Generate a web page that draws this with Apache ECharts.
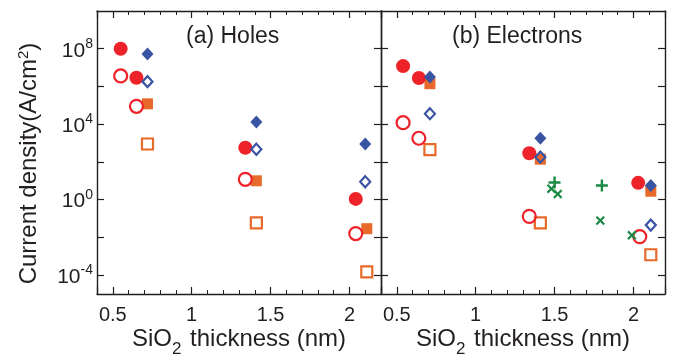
<!DOCTYPE html>
<html>
<head>
<meta charset="utf-8">
<script src="https://cdn.jsdelivr.net/npm/echarts@6/dist/echarts.min.js"></script>
<style>
  html, body { margin: 0; background: #fff; }
  #chart { width: 676px; height: 356px; }
</style>
</head>
<body>
<div id="chart"></div>
<script>
const FONT = 'Liberation Sans, Arial, sans-serif'
const INK = '#231f20'
const RED = '#ee2229'
const BLUE = '#3a54a4'
const ORANGE = '#e86a2a'
const GREEN = '#1a8a44'

const X_MIN = 0.4
const X_MAX = 2.2
const Y_MIN = 1e-5
const Y_MAX = 1e10
const xTickLabels = ['0.5', '1', '1.5', '2']
const yTickValues = [1e-4, 1e-2, 1, 1e2, 1e4, 1e6, 1e8]
const yLabelValues = [1e-4, 1, 1e4, 1e8]
const panelTitles = ['(a) Holes', '(b) Electrons']

// (a) holes: [thickness nm, current density A/cm2]
const holesFilledCircle = [[0.55, 1.0e8], [0.65, 2.9e6], [1.34, 5.6e2], [2.04, 1.1]]
const holesOpenCircle = [[0.55, 3.6e6], [0.65, 8.9e4], [1.34, 12], [2.04, 1.6e-2]]
const holesFilledDiamond = [[0.72, 5.2e7], [1.41, 1.3e4], [2.10, 8.9e2]]
const holesOpenDiamond = [[0.72, 1.8e6], [1.41, 4.7e2], [2.10, 8.9]]
const holesFilledSquare = [[0.72, 1.2e5], [1.41, 10], [2.11, 2.9e-2]]
const holesOpenSquare = [[0.72, 8.9e2], [1.41, 5.9e-2], [2.11, 1.5e-4]]

// (b) electrons
const elecFilledCircle = [[0.54, 1.2e7], [0.64, 2.8e6], [1.34, 2.9e2], [2.03, 7.8]]
const elecOpenCircle = [[0.54, 1.2e4], [0.64, 1.8e3], [1.34, 0.13], [2.04, 1.1e-2]]
const elecFilledDiamond = [[0.71, 3.2e6], [1.41, 1.8e3], [2.11, 5.6]]
const elecOpenDiamond = [[0.71, 3.6e4], [1.41, 1.8e2], [2.11, 4.5e-2]]
const elecFilledSquare = [[0.71, 1.4e6], [1.41, 1.4e2], [2.11, 2.8]]
const elecOpenSquare = [[0.71, 4.5e2], [1.41, 5.9e-2], [2.11, 1.2e-3]]
const elecPlus = [[1.50, 8.1], [1.80, 5.6]]
const elecCross = [[1.48, 3.8], [1.52, 2.0], [1.79, 7.8e-2], [1.99, 1.3e-2]]

const PLUS_PATH = 'path://M4,0H6V4H10V6H6V10H4V6H0V4H4Z'

const grids = [
  { left: 97, top: 11, width: 284, height: 283, outerBoundsMode: 'none', containLabel: false },
  { left: 381, top: 11, width: 284, height: 283, outerBoundsMode: 'none', containLabel: false }
]

function xAxes(p) {
  const base = { gridIndex: p, type: 'value', min: X_MIN, max: X_MAX, splitLine: { show: false } }
  const major = {
    ...base, minInterval: 0.5, maxInterval: 0.5,
    axisLine: { show: true, lineStyle: { color: INK, width: 1.4 } },
    axisTick: { show: true, inside: true, length: 7, lineStyle: { color: INK, width: 1.2 } }
  }
  const minor = {
    ...base, interval: 0.1,
    axisLine: { show: false },
    axisTick: { show: true, inside: true, length: 4, lineStyle: { color: INK, width: 1 } },
    axisLabel: { show: false }
  }
  return [
    {
      ...major, position: 'bottom',
      axisLabel: {
        show: true, margin: 11, fontSize: 20, fontFamily: FONT, color: INK,
        formatter: (v) => {
          const s = String(+(+v).toFixed(1))
          return xTickLabels.includes(s) ? s : ''
        }
      },
      name: 'SiO{sub|2} thickness (nm)',
      nameLocation: 'middle',
      nameGap: 26,
      nameMoveOverlap: false,
      nameTextStyle: {
        fontSize: 24, fontFamily: FONT, color: INK, lineHeight: 26,
        rich: { sub: { fontSize: 17, fontFamily: FONT, color: INK, verticalAlign: 'bottom', lineHeight: 38, padding: [0, 2, 0, 0] } }
      }
    },
    { ...minor, position: 'bottom' },
    { ...major, position: 'top', axisLabel: { show: false } },
    { ...minor, position: 'top' }
  ]
}

function yAxes(p) {
  const base = {
    gridIndex: p, type: 'log', logBase: 10, min: Y_MIN, max: Y_MAX,
    splitLine: { show: false }, minorTick: { show: false },
    axisLine: { show: true, lineStyle: { color: INK, width: 1.4 } },
    axisTick: { show: true, inside: true, length: 7, customValues: yTickValues, lineStyle: { color: INK, width: 1.2 } }
  }
  const left = {
    ...base, position: 'left',
    axisLabel: {
      show: p === 0, margin: 4, fontFamily: FONT, color: INK,
      customValues: yLabelValues,
      formatter: (v) => '{b|10}{s|' + Math.round(Math.log10(v)) + '}',
      rich: {
        b: { fontSize: 21, fontFamily: FONT, color: INK, lineHeight: 24, padding: [4, 0, 0, 0] },
        s: { fontSize: 14, fontFamily: FONT, color: INK, verticalAlign: 'top', lineHeight: 14 }
      }
    }
  }
  if (p === 0) {
    left.name = 'Current density(A/cm{sup|2})'
    left.nameLocation = 'middle'
    left.nameGap = 55
    left.nameRotate = 90
    left.nameMoveOverlap = false
    left.nameTextStyle = {
      fontSize: 24, fontFamily: FONT, color: INK, lineHeight: 26, padding: [0, 22, 0, 0],
      rich: { sup: { fontSize: 15, fontFamily: FONT, color: INK, verticalAlign: 'top', lineHeight: 15 } }
    }
  }
  return [left, { ...base, position: 'right', axisLabel: { show: false } }]
}

function scatter(p, data, symbol, size, color, open, rotate) {
  return {
    type: 'scatter',
    xAxisIndex: p * 4,
    yAxisIndex: p * 2,
    data,
    symbol,
    symbolSize: size,
    symbolRotate: rotate || 0,
    itemStyle: open
      ? { color: 'rgba(0,0,0,0)', borderColor: color, borderWidth: 2.2, opacity: 1 }
      : { color, borderWidth: 0, opacity: 1 },
    emphasis: { disabled: true },
    silent: true
  }
}

const series = [
  scatter(0, holesFilledSquare, 'rect', 11, ORANGE, false),
  scatter(0, holesOpenSquare, 'rect', 11, ORANGE, true),
  scatter(0, holesFilledCircle, 'circle', 14, RED, false),
  scatter(0, holesOpenCircle, 'circle', 13, RED, true),
  scatter(0, holesFilledDiamond, 'diamond', [12, 13], BLUE, false),
  scatter(0, holesOpenDiamond, 'diamond', [10, 11], BLUE, true),

  scatter(1, elecFilledSquare, 'rect', 11, ORANGE, false),
  scatter(1, elecOpenSquare, 'rect', 11, ORANGE, true),
  scatter(1, elecFilledCircle, 'circle', 14, RED, false),
  scatter(1, elecOpenCircle, 'circle', 13, RED, true),
  scatter(1, elecFilledDiamond, 'diamond', [12, 13], BLUE, false),
  scatter(1, elecOpenDiamond, 'diamond', [10, 11], BLUE, true),
  scatter(1, elecPlus, PLUS_PATH, 12, GREEN, false),
  scatter(1, elecCross, PLUS_PATH, 11, GREEN, false, 45)
]

const titleStyle = { fontSize: 23, fontWeight: 'normal', fontFamily: FONT, color: INK }

const chart = echarts.init(document.getElementById('chart'), null, { renderer: 'canvas' })
chart.setOption({
  animation: false,
  backgroundColor: '#fff',
  title: [
    { text: panelTitles[0], left: 186, top: 25, padding: 0, textStyle: titleStyle },
    { text: panelTitles[1], left: 452, top: 25, padding: 0, textStyle: titleStyle }
  ],
  grid: grids,
  xAxis: [...xAxes(0), ...xAxes(1)],
  yAxis: [...yAxes(0), ...yAxes(1)],
  series
})
</script>
</body>
</html>
